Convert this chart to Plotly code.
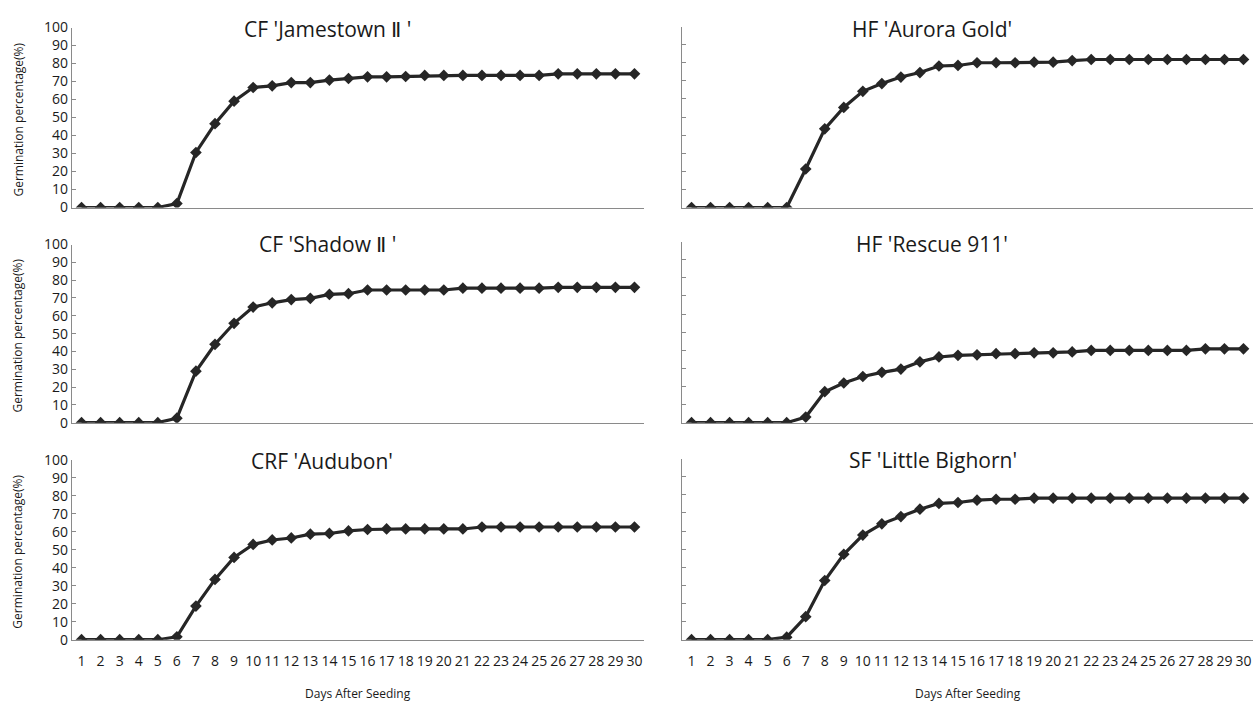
import plotly.graph_objects as go

W, H = 1257, 711

days = list(range(1, 31))

titles = ["CF 'Jamestown Ⅱ '", "HF 'Aurora Gold'", "CF 'Shadow Ⅱ '",
          "HF 'Rescue 911'", "CRF 'Audubon'", "SF 'Little Bighorn'"]

jamestown = [0, 0, 0, 0, 0, 2.2, 30.6, 46.6, 59.1, 66.7, 67.6, 69.4, 69.4, 70.8, 71.7,
             72.6, 72.6, 72.8, 73.4, 73.4, 73.4, 73.4, 73.4, 73.4, 73.4, 74.3, 74.3, 74.3, 74.3, 74.3]
aurora_gold = [0, 0, 0, 0, 0, 0, 21.3, 43.5, 55.3, 64.2, 68.5, 72.1, 74.6, 78.2, 78.5,
               80.0, 80.0, 80.0, 80.3, 80.3, 81.2, 81.8, 81.8, 81.8, 81.8, 81.8, 81.8, 81.8, 81.8, 81.8]
shadow = [0, 0, 0, 0, 0, 2.5, 28.9, 44.0, 55.8, 64.9, 67.3, 69.1, 69.8, 72.0, 72.4,
          74.5, 74.5, 74.5, 74.5, 74.5, 75.5, 75.5, 75.5, 75.5, 75.5, 76.0, 76.0, 76.0, 76.0, 76.0]
rescue_911 = [0, 0, 0, 0, 0, 0, 3.1, 17.1, 21.9, 25.5, 27.8, 29.6, 33.6, 36.3, 37.2,
              37.5, 38.1, 38.1, 38.6, 38.6, 39.1, 39.9, 39.9, 39.9, 39.9, 39.9, 39.9, 40.8, 40.8, 40.8]
audubon = [0, 0, 0, 0, 0, 1.6, 18.7, 33.5, 45.7, 52.9, 55.4, 56.5, 58.6, 59.0, 60.4,
           61.2, 61.5, 61.5, 61.5, 61.5, 61.5, 62.6, 62.6, 62.6, 62.6, 62.6, 62.6, 62.6, 62.6, 62.6]
little_bighorn = [0, 0, 0, 0, 0, 1.4, 12.7, 32.7, 47.2, 57.8, 64.0, 68.0, 72.1, 75.3, 75.8,
                  77.1, 77.6, 77.6, 78.2, 78.2, 78.2, 78.2, 78.2, 78.2, 78.2, 78.2, 78.2, 78.2, 78.2, 78.2]

series = [jamestown, aurora_gold, shadow, rescue_911, audubon, little_bighorn]
y_ticks = list(range(0, 101, 10))

x_title = "Days After Seeding"
y_title = "Germination percentage(%)"

# layout geometry in pixels (of the 1257x711 reference)
x_dom_px = {0: (72, 644), 1: (682, 1253)}
y_dom_px = [(18, 203), (17, 203), (241, 424), (238, 424), (462, 647), (461, 647)]
title_pos = [(328, 20), (932, 19.5), (327, 240), (932, 240), (322, 463), (933, 462)]

FONT = "Open Sans"
TXT = "#1a1a1a"
AX = "#8a8a8a"
LINE = "#262626"

fig = go.Figure()
layout = dict(autosize=True, margin=dict(l=0, r=0, t=0, b=0),
              paper_bgcolor="white", plot_bgcolor="white", showlegend=False,
              font=dict(family=FONT, color=TXT))
annotations = []

for i, (name, vals) in enumerate(zip(titles, series)):
    col = i % 2
    row = i // 2
    suffix = "" if i == 0 else str(i + 1)
    fig.add_trace(go.Scatter(
        x=days, y=vals, mode="lines+markers", name=name,
        xaxis="x" + suffix, yaxis="y" + suffix,
        line=dict(color=LINE, width=3.2),
        marker=dict(symbol="diamond", size=9, color=LINE),
    ))
    x0, x1 = x_dom_px[col]
    yt, yb = y_dom_px[i]
    layout["xaxis" + suffix] = dict(
        domain=[x0 / W, x1 / W], range=[0.5, 30.5], anchor="y" + suffix,
        tickmode="array", tickvals=days, ticktext=[str(d) for d in days],
        showticklabels=(row == 2), ticks="", showgrid=False, zeroline=False,
        showline=True, linecolor=AX, linewidth=1.3,
        tickfont=dict(size=14, family=FONT, color=TXT), ticklabelstandoff=8,
    )
    layout["yaxis" + suffix] = dict(
        domain=[1 - yb / H, 1 - yt / H], range=[0, 100], anchor="x" + suffix,
        tickmode="array", tickvals=y_ticks, ticktext=[str(v) for v in y_ticks],
        showticklabels=(col == 0), ticks="inside", ticklen=4, tickcolor=AX,
        showgrid=False, zeroline=False, showline=True, linecolor=AX, linewidth=1.3,
        tickfont=dict(size=14, family=FONT, color=TXT),
    )
    tx, ty = title_pos[i]
    annotations.append(dict(text=name, x=tx / W, y=1 - ty / H, xref="paper", yref="paper",
                            xanchor="center", yanchor="middle", showarrow=False,
                            font=dict(size=21, family=FONT, color=TXT)))
    if col == 0:
        annotations.append(dict(text=y_title, x=18 / W, y=1 - ((yt + yb) / 2 + 2) / H,
                                xref="paper", yref="paper", textangle=-90,
                                xanchor="center", yanchor="middle", showarrow=False,
                                font=dict(size=12, family=FONT, color=TXT)))
    if row == 2:
        annotations.append(dict(text=x_title, x=((x0 + x1) / 2) / W, y=1 - 702 / H,
                                xref="paper", yref="paper", xanchor="center", yanchor="middle",
                                showarrow=False, font=dict(size=12, family=FONT, color=TXT)))

layout["annotations"] = annotations
fig.update_layout(**layout)

post = (
    "document.documentElement.style.height='100%';"
    "document.body.style.height='100%';"
    "document.body.style.margin='0px';"
    "document.body.style.overflow='hidden';"
    "var gd=document.getElementById('{plot_id}');"
    "gd.parentElement.style.height='100%';"
    "gd.style.height='100%';gd.style.width='100%';"
    "Plotly.Plots.resize(gd);"
)
fig.write_html("out.html", config={"displayModeBar": False, "responsive": True},
               default_width="100%", default_height="100%", post_script=post)
